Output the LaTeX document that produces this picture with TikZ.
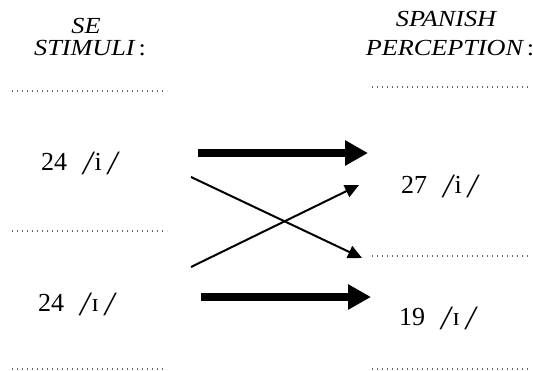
\documentclass[tikz,border=0pt]{standalone}
\usepackage{fontspec}
\setmainfont{Liberation Serif}
\newfontfamily\headfont[FakeStretch=1.14]{Liberation Serif}
\usetikzlibrary{arrows.meta}
\newcommand{\bsl}{\raisebox{-4pt}{\fontsize{34}{34}\selectfont\itshape/}}
\newcommand{\ipa}[2]{#1\hspace{16pt}\bsl\hspace{2pt}#2\hspace{6pt}\bsl}
\begin{document}
\begin{tikzpicture}[x=1pt,y=-1pt,
  head/.style={font=\headfont\fontsize{23}{27}\selectfont\itshape, align=center, inner sep=0pt, text height=15pt, text depth=0pt},
  lab/.style={font=\fontsize{26}{30}\selectfont, inner sep=0pt, anchor=base west},
  dots/.style={draw=black!60, line width=1.3pt, dash pattern=on 1.3pt off 3.7pt},
  thick arrow/.style={line width=8pt, -{Triangle[length=23pt,width=24pt]}},
  thin arrow/.style={line width=2pt, -{Triangle[length=14pt,width=13pt]}}]
\useasboundingbox (0,0) rectangle (533,371);
% headers
\node[head, anchor=base] (se) at (86,34) {SE};
\node[head, anchor=base] (stim) at (90,56) {STIMULI\,\upshape:};
\node[head, anchor=base] (sp) at (446,27) {SPANISH};
\node[head, anchor=base] (perc) at (450,56) {PERCEPTION\,\upshape:};
% dotted rules
\coordinate (l1a) at (12,91);  \coordinate (l1b) at (167,91);
\coordinate (l2a) at (12,231); \coordinate (l2b) at (167,231);
\coordinate (l3a) at (12,369); \coordinate (l3b) at (165,369);
\coordinate (r1a) at (372,87);  \coordinate (r1b) at (528,87);
\coordinate (r2a) at (372,256); \coordinate (r2b) at (528,256);
\coordinate (r3a) at (372,369); \coordinate (r3b) at (528,369);
\draw[dots] (l1a) -- (l1b);
\draw[dots] (l2a) -- (l2b);
\draw[dots] (l3a) -- (l3b);
\draw[dots] (r1a) -- (r1b);
\draw[dots] (r2a) -- (r2b);
\draw[dots] (r3a) -- (r3b);
% labels
\node[lab] (si) at (41,171) {\ipa{24}{i}};
\node[lab] (sI) at (38,312) {\ipa{24}{ɪ}};
\node[lab] (pi) at (401,194) {\ipa{27}{i}};
\node[lab] (pI) at (399,326) {\ipa{19}{ɪ}};
% arrows
\coordinate (a1s) at (198,153); \coordinate (a1e) at (368,153);
\coordinate (a2s) at (201,297); \coordinate (a2e) at (371,297);
\coordinate (c1s) at (191,177); \coordinate (c1e) at (362,258);
\coordinate (c2s) at (191,267); \coordinate (c2e) at (359,185);
\draw[thick arrow] (a1s) -- (a1e);
\draw[thick arrow] (a2s) -- (a2e);
\draw[thin arrow] (c1s) -- (c1e);
\draw[thin arrow] (c2s) -- (c2e);
\end{tikzpicture}
\end{document}
